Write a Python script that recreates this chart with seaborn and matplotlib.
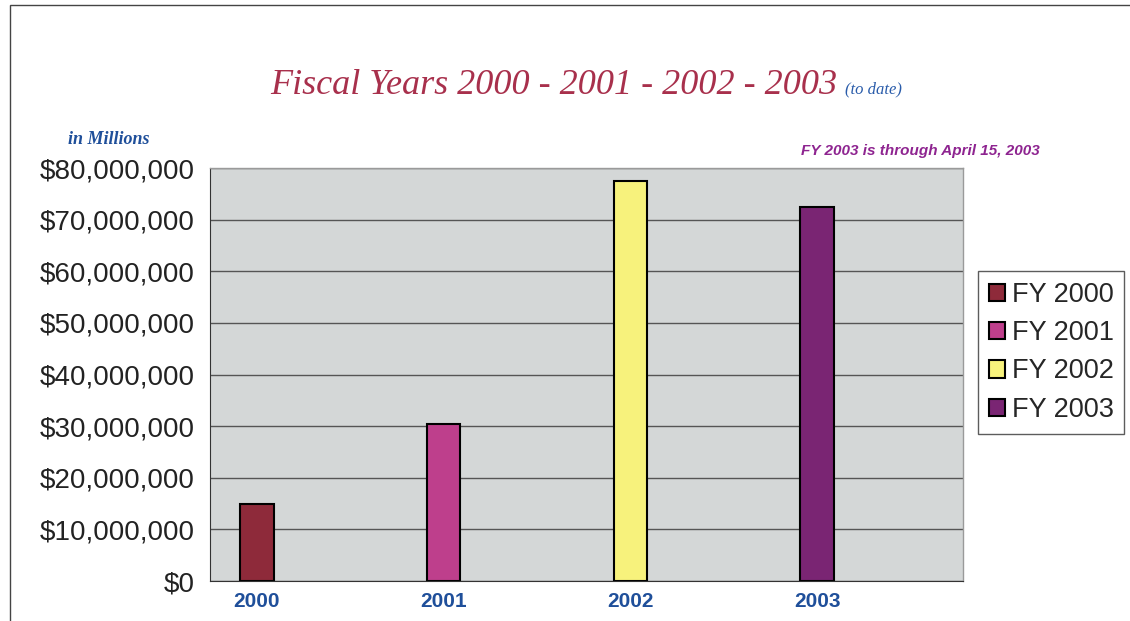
import pandas as pd
import seaborn as sns
import matplotlib.pyplot as plt
from matplotlib.ticker import FuncFormatter, MultipleLocator
from matplotlib.patches import Rectangle

years = ["2000", "2001", "2002", "2003"]
labels = ["FY 2000", "FY 2001", "FY 2002", "FY 2003"]
amounts = [15_000_000, 30_400_000, 77_400_000, 72_400_000]
colors = ["#8E2A3A", "#BE3F8C", "#F7F27C", "#7A2573"]

df = pd.DataFrame({"year": years, "fy": labels, "amount": amounts})

sns.set_style("white")
plt.rcParams["font.family"] = ["Liberation Sans", "DejaVu Sans"]
fig = plt.figure(figsize=(11.3, 6.21), dpi=100)
ax = fig.add_axes([0.186, 0.0644, 0.666, 0.665])

sns.barplot(data=df, x="year", y="amount", hue="fy", palette=colors,
            dodge=False, width=0.18, edgecolor="black", linewidth=1.5,
            saturation=1, ax=ax)

ax.set_facecolor("#D4D7D7")
ax.set_xlim(-0.25, 3.78)
ax.set_ylim(0, 80_000_000)
ax.yaxis.set_major_locator(MultipleLocator(10_000_000))
ax.yaxis.set_major_formatter(FuncFormatter(lambda v, p: "${:,.0f}".format(v)))
ax.grid(axis="y", color="#555555", linewidth=1)
ax.set_axisbelow(True)
for side in ["top", "right"]:
    ax.spines[side].set_color("#9A9A9A")
    ax.spines[side].set_linewidth(1)
ax.spines["left"].set_color("#333333")
ax.spines["bottom"].set_color("#333333")
ax.tick_params(axis="y", length=6, width=1, color="#333333", labelsize=20,
               labelcolor="#222222", pad=5)
ax.tick_params(axis="x", length=0, labelsize=15, labelcolor="#1F4F9A", pad=8)
for t in ax.get_xticklabels():
    t.set_fontweight("bold")
ax.set_xlabel("")
ax.set_ylabel("")

leg = ax.legend(loc="upper left", bbox_to_anchor=(1.02, 0.75), frameon=True,
                fontsize=19.5, handlelength=0.6, handleheight=0.6,
                handletextpad=0.25, borderpad=0.4, borderaxespad=0,
                labelspacing=0.45, fancybox=False, edgecolor="#333333")
leg.get_frame().set_linewidth(1)

fig.text(0.239, 0.849, "Fiscal Years 2000 - 2001 - 2002 - 2003",
         family="Liberation Serif", style="italic", fontsize=26,
         color="#A8304C", ha="left", va="baseline")
fig.text(0.748, 0.849, "(to date)", family="Liberation Serif", style="italic",
         fontsize=12, color="#2A5CAA", ha="left", va="baseline")
fig.text(0.06, 0.768, "in Millions", family="Liberation Serif", style="italic",
         fontweight="bold", fontsize=13, color="#1F4F9A", ha="left", va="baseline")
fig.text(0.92, 0.751, "FY 2003 is through April 15, 2003", style="italic",
         fontweight="bold", fontsize=11, color="#8E2490", ha="right", va="baseline")

fig.add_artist(Rectangle((0.009, -0.1), 1.2, 1.092, transform=fig.transFigure,
                         fill=False, edgecolor="#444444", linewidth=1))

fig.savefig("out.png", dpi=100)
